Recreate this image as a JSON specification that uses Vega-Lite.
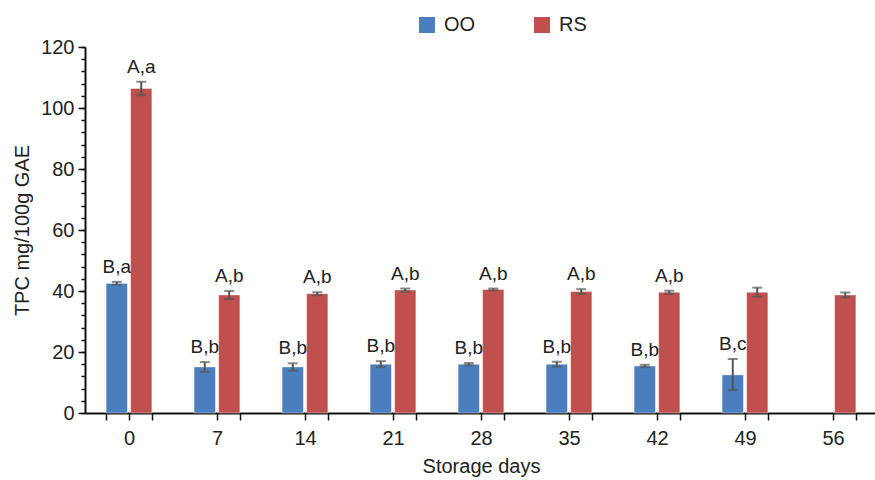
{
  "$schema": "https://vega.github.io/schema/vega-lite/v6.json",
  "width": 792,
  "height": 366,
  "autosize": "none",
  "padding": {"left": 85, "top": 47, "right": 0, "bottom": 67},
  "config": {
    "font": "Liberation Sans",
    "view": {"stroke": null},
    "axis": {
      "domainColor": "#111",
      "domainWidth": 2,
      "tickColor": "#111",
      "tickWidth": 1.5,
      "labelFontSize": 20,
      "labelColor": "#222",
      "titleFontSize": 20,
      "titleFontWeight": "normal",
      "titleColor": "#222",
      "grid": false
    }
  },
  "data": {
    "values": [
      {"day": 0, "group": "OO", "value": 42.5, "lo": 42.0, "hi": 43.0, "label": "B,a"},
      {"day": 0, "group": "RS", "value": 106.4, "lo": 104.2, "hi": 108.6, "label": "A,a"},
      {"day": 7, "group": "OO", "value": 15.1, "lo": 13.5, "hi": 16.7, "label": "B,b"},
      {"day": 7, "group": "RS", "value": 38.7, "lo": 37.4, "hi": 40.0, "label": "A,b"},
      {"day": 14, "group": "OO", "value": 15.1, "lo": 13.9, "hi": 16.3, "label": "B,b"},
      {"day": 14, "group": "RS", "value": 39.1, "lo": 38.6, "hi": 39.6, "label": "A,b"},
      {"day": 21, "group": "OO", "value": 16.0, "lo": 15.0, "hi": 17.0, "label": "B,b"},
      {"day": 21, "group": "RS", "value": 40.3, "lo": 39.8, "hi": 40.8, "label": "A,b"},
      {"day": 28, "group": "OO", "value": 16.0, "lo": 15.6, "hi": 16.4, "label": "B,b"},
      {"day": 28, "group": "RS", "value": 40.5, "lo": 40.2, "hi": 40.8, "label": "A,b"},
      {"day": 35, "group": "OO", "value": 16.0, "lo": 15.2, "hi": 16.8, "label": "B,b"},
      {"day": 35, "group": "RS", "value": 39.8, "lo": 39.0, "hi": 40.6, "label": "A,b"},
      {"day": 42, "group": "OO", "value": 15.4, "lo": 15.0, "hi": 15.8, "label": "B,b"},
      {"day": 42, "group": "RS", "value": 39.6, "lo": 39.1, "hi": 40.1, "label": "A,b"},
      {"day": 49, "group": "OO", "value": 12.5, "lo": 7.5, "hi": 17.7, "label": "B,c"},
      {"day": 49, "group": "RS", "value": 39.6, "lo": 38.1, "hi": 41.1, "label": ""},
      {"day": 56, "group": "RS", "value": 38.7, "lo": 37.9, "hi": 39.5, "label": ""}
    ]
  },
  "encoding": {
    "xOffset": {
      "field": "group",
      "type": "nominal",
      "scale": {"paddingInner": 0.13}
    }
  },
  "layer": [
    {
      "mark": {"type": "bar", "stroke": "#ffffff", "strokeOpacity": 0.4, "strokeWidth": 1},
      "encoding": {
        "x": {
          "field": "day",
          "type": "ordinal",
          "scale": {"paddingInner": 0.48, "paddingOuter": 0.24},
          "axis": {
            "title": "Storage days",
            "orient": "bottom",
            "labelAngle": 0,
            "tickBand": "extent",
            "tickSize": 7,
            "labelPadding": 8,
            "titlePadding": 8
          }
        },
        "y": {
          "field": "value",
          "type": "quantitative",
          "scale": {"domain": [0, 120], "nice": false},
          "axis": {
            "title": "TPC mg/100g GAE",
            "orient": "left",
            "values": [0, 20, 40, 60, 80, 100, 120],
            "labelOverlap": false,
            "labelBound": false,
            "tickSize": 7,
            "labelPadding": 4,
            "titlePadding": 8
          }
        },
        "color": {
          "field": "group",
          "type": "nominal",
          "scale": {"domain": ["OO", "RS"], "range": ["#4a7ebf", "#c0504d"]},
          "legend": {
            "title": null,
            "orient": "none",
            "legendX": 332,
            "legendY": -32,
            "direction": "horizontal",
            "columns": 2,
            "symbolType": "square",
            "symbolSize": 256,
            "symbolStrokeWidth": 0,
            "labelFontSize": 20,
            "labelColor": "#222",
            "labelOffset": 7,
            "columnPadding": 56
          }
        }
      }
    },
    {
      "mark": {"type": "rule", "color": "#555555", "strokeWidth": 2},
      "encoding": {
        "x": {
          "field": "day",
          "type": "ordinal",
          "axis": {
            "title": null,
            "orient": "bottom",
            "labels": false,
            "domain": false,
            "tickSize": 7
          }
        },
        "y": {
          "field": "lo",
          "type": "quantitative",
          "axis": {
            "title": null,
            "orient": "left",
            "values": [0, 4, 8, 12, 16, 20, 24, 28, 32, 36, 40, 44, 48, 52, 56, 60, 64, 68, 72, 76, 80, 84, 88, 92, 96, 100, 104, 108, 112, 116, 120],
            "labels": false,
            "domain": false,
            "tickSize": 4
          }
        },
        "y2": {"field": "hi"}
      }
    },
    {
      "mark": {"type": "tick", "color": "#555555", "size": 10, "thickness": 2},
      "encoding": {
        "x": {"field": "day", "type": "ordinal", "axis": null},
        "y": {"field": "hi", "type": "quantitative", "axis": null}
      }
    },
    {
      "mark": {"type": "tick", "color": "#555555", "size": 10, "thickness": 2},
      "encoding": {
        "x": {"field": "day", "type": "ordinal", "axis": null},
        "y": {"field": "lo", "type": "quantitative", "axis": null}
      }
    },
    {
      "mark": {"type": "text", "fontSize": 19, "color": "#222", "baseline": "alphabetic", "dy": -9},
      "encoding": {
        "x": {"field": "day", "type": "ordinal", "axis": null},
        "y": {"field": "hi", "type": "quantitative", "axis": null},
        "text": {"field": "label"}
      }
    }
  ],
  "resolve": {"axis": {"x": "independent", "y": "independent"}}
}
